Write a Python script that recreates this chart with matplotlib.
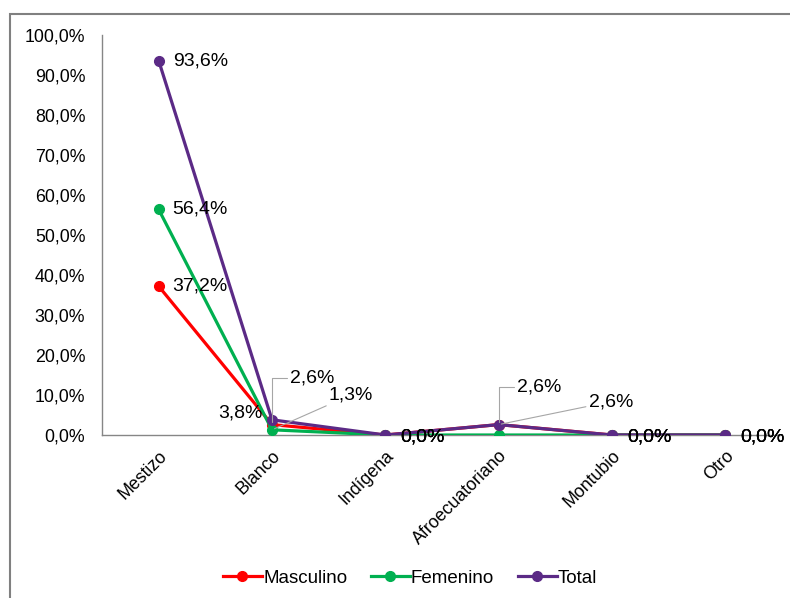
import matplotlib
matplotlib.use('Agg')
import matplotlib.pyplot as plt
from matplotlib.patches import Rectangle
from matplotlib.lines import Line2D

plt.rcParams['font.family'] = ['Liberation Sans', 'DejaVu Sans']

categories = ['Mestizo', 'Blanco', 'Indígena', 'Afroecuatoriano', 'Montubio', 'Otro']
masculino = [37.2, 2.6, 0.0, 2.6, 0.0, 0.0]
femenino = [56.4, 1.3, 0.0, 0.0, 0.0, 0.0]
total = [93.6, 3.8, 0.0, 2.6, 0.0, 0.0]
series_names = ['Masculino', 'Femenino', 'Total']
colors = ['#FF0000', '#00B050', '#5B2A86']
yticks = list(range(0, 101, 10))

def pct(v):
    return f'{v:.1f}%'.replace('.', ',')

fig = plt.figure(figsize=(7.9, 5.98), dpi=100)
fig.patches.append(Rectangle((10 / 790, -0.1), 1, 1.1 - 14 / 598, transform=fig.transFigure,
                             fill=False, edgecolor='#808080', linewidth=1.5))
ax = fig.add_axes([102 / 790, 1 - 435 / 598, 680 / 790, 400 / 598])

x = list(range(len(categories)))
all_series = [masculino, femenino, total]
for vals, name, c in zip(all_series, series_names, colors):
    ax.plot(x, vals, color=c, lw=2.3, marker='o', ms=7, label=name, zorder=3)

ax.set_xlim(-0.5, len(categories) - 0.5)
ax.set_ylim(0, 100)
ax.set_yticks(yticks)
ax.set_yticklabels([pct(v) for v in yticks], fontsize=12.8)
ax.set_xticks(x)
ax.set_xticklabels(categories, rotation=45, ha='right', rotation_mode='anchor', fontsize=12.8)
ax.tick_params(length=0)
ax.tick_params(axis='y', pad=12)
ax.tick_params(axis='x', pad=9)
for s in ['top', 'right']:
    ax.spines[s].set_visible(False)
for s in ['left', 'bottom']:
    ax.spines[s].set_color('#868686')
    ax.spines[s].set_linewidth(1)

fs = 14
# Mestizo labels
for vals in all_series:
    ax.annotate(pct(vals[0]), (0, vals[0]), xytext=(14, 0), textcoords='offset pixels',
                ha='left', va='center', fontsize=fs)
# zero labels (overlapping)
for vals in all_series:
    for i in [2, 4, 5]:
        ax.annotate(pct(vals[i]), (i, vals[i]), xytext=(15, -2), textcoords='offset pixels',
                    ha='left', va='center', fontsize=fs)

lead = dict(arrowstyle='-', color='#A6A6A6', lw=0.8, shrinkA=0, shrinkB=2)
elbow = dict(lead, connectionstyle='angle,angleA=0,angleB=90,rad=0')
# Blanco
ax.annotate(pct(total[1]), (1, total[1]), xytext=(-9, 7), textcoords='offset pixels',
            ha='right', va='center', fontsize=fs)
ax.annotate(pct(masculino[1]), (1, masculino[1]), xytext=(18, 47), textcoords='offset pixels',
            ha='left', va='center', fontsize=fs, arrowprops=elbow)
ax.annotate(pct(femenino[1]), (1, femenino[1]), xytext=(57, 35), textcoords='offset pixels',
            ha='left', va='center', fontsize=fs, arrowprops=lead)
# Afroecuatoriano
ax.annotate(pct(masculino[3]), (3, masculino[3]), xytext=(18, 38), textcoords='offset pixels',
            ha='left', va='center', fontsize=fs, arrowprops=elbow)
ax.annotate(pct(total[3]), (3, total[3]), xytext=(90, 23), textcoords='offset pixels',
            ha='left', va='center', fontsize=fs, arrowprops=lead)

handles = [Line2D([], [], color=c, lw=2.3, marker='o', ms=7) for c in colors]
fig.legend(handles, series_names, loc='center', bbox_to_anchor=(410 / 790, 1 - 578 / 598),
           ncol=3, frameon=False, fontsize=13.5, handlelength=2.1, handletextpad=0.05,
           columnspacing=1.25)

fig.savefig('out.png', dpi=100)
